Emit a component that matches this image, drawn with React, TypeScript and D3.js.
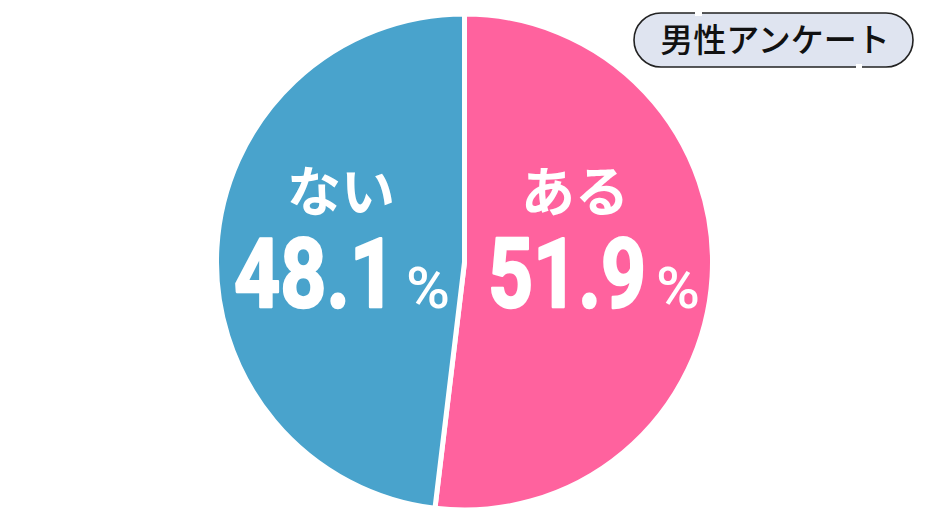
import * as d3 from "d3";

const categories = ["ある", "ない"];
const values = [51.9, 48.1];
const colors = ["#ff629e", "#49a3cc"];
const badgeLabel = "男性アンケート";

const W = 930;
const H = 521;
const cx = 464.5;
const cy = 262;
const radius = 248;

export default function App() {
  const pie = d3
    .pie<number>()
    .sort(null)
    .value((d) => d)
    .startAngle(0)
    .endAngle(2 * Math.PI);
  const arcs = pie(values);
  const arc = d3.arc<d3.PieArcDatum<number>>().innerRadius(0).outerRadius(radius);

  // label anchors (centre of each label block)
  const labelX = [575, 341];
  const numStart = [488, 234];
  const numWidth = [158, 162];

  return (
    <svg
      width={W}
      height={H}
      style={{ position: "absolute", left: 0, top: 0, background: "#fff" }}
    >
      <g transform={`translate(${cx},${cy})`}>
        {arcs.map((a, i) => (
          <path key={i} d={arc(a)!} fill={colors[i]} stroke="#fff" strokeWidth={5} strokeLinejoin="miter" />
        ))}
      </g>

      {arcs.map((a, i) => (
        <g key={"l" + i} fill="#fff">
          <text
            x={labelX[i]}
            y={212}
            textAnchor="middle"
            fontFamily="'Noto Sans CJK JP'"
            fontWeight={700}
            fontSize={54}
          >
            {categories[i]}
          </text>
          <text
            x={numStart[i]}
            y={307}
            fontFamily="Roboto"
            fontWeight={700}
            fontSize={96}
            stroke="#fff"
            strokeWidth={2.5}
            strokeLinejoin="round"
            textLength={numWidth[i]}
            lengthAdjust="spacingAndGlyphs"
          >
            {values[i].toFixed(1)}
          </text>
          <text
            x={numStart[i] + numWidth[i] + 10}
            y={308}
            fontFamily="Roboto"
            fontWeight={500}
            fontSize={58}
            textLength={44}
            lengthAdjust="spacingAndGlyphs"
          >
            %
          </text>
        </g>
      ))}

      <g>
        <rect x={634} y={13} width={279} height={54} rx={27} fill="#dfe4f0" stroke="#222" strokeWidth={1.6} />
        <rect x={695} y={10} width={7} height={6} fill="#fff" />
        <rect x={856} y={64} width={6} height={7} fill="#fff" />
        <text
          x={775}
          y={52}
          textAnchor="middle"
          fontFamily="'Noto Sans CJK JP'"
          fontWeight={500}
          fontSize={33}
          fill="#111"
        >
          {badgeLabel}
        </text>
      </g>
    </svg>
  );
}
